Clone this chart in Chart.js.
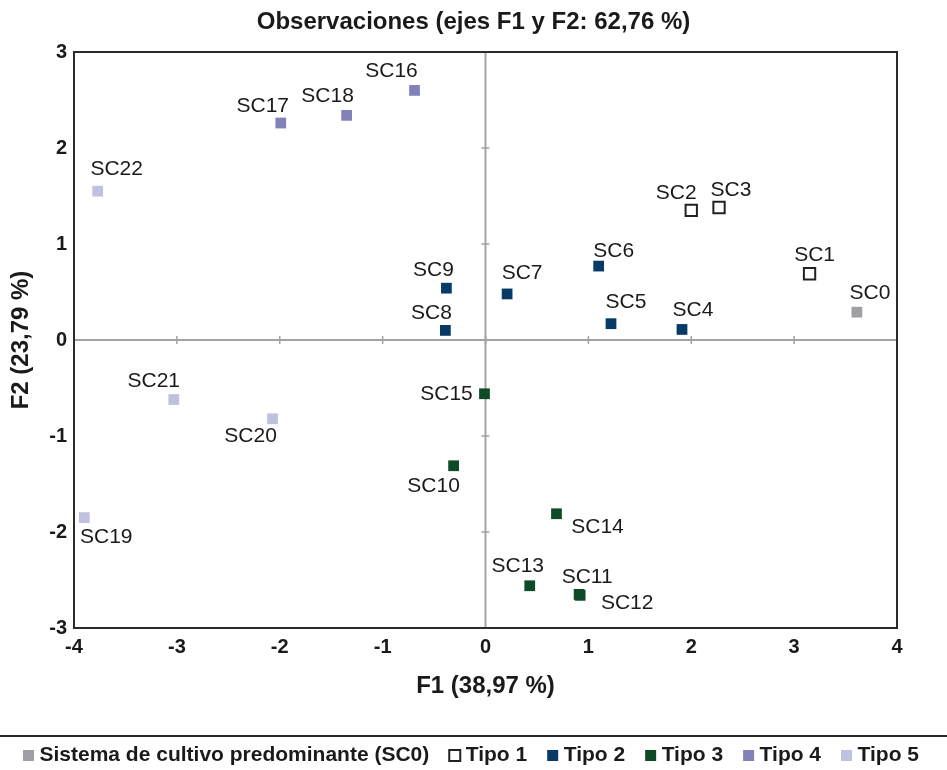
<!DOCTYPE html>
<html lang="es">
<head>
<meta charset="UTF-8">
<title>Observaciones (ejes F1 y F2)</title>
<script src="https://cdn.jsdelivr.net/npm/chart.js"></script>
<style>
  body { margin: 0; background: #fff; }
</style>
</head>
<body>
<canvas id="obsChart" width="947" height="770"></canvas>
<script>
// coordenadas de las observaciones (F1, F2) por grupo
const sc0Names = ['SC0'];
const sc0F1 = [3.61];
const sc0F2 = [0.29];

const tipo1Names = ['SC1', 'SC2', 'SC3'];
const tipo1F1 = [3.15, 2.00, 2.27];
const tipo1F2 = [0.69, 1.35, 1.38];

const tipo2Names = ['SC4', 'SC5', 'SC6', 'SC7', 'SC8', 'SC9'];
const tipo2F1 = [1.91, 1.22, 1.10, 0.21, -0.39, -0.38];
const tipo2F2 = [0.11, 0.17, 0.77, 0.48, 0.10, 0.54];

const tipo3Names = ['SC10', 'SC11', 'SC12', 'SC13', 'SC14', 'SC15'];
const tipo3F1 = [-0.31, 0.91, 0.92, 0.43, 0.69, -0.01];
const tipo3F2 = [-1.31, -2.65, -2.66, -2.56, -1.81, -0.56];

const tipo4Names = ['SC16', 'SC17', 'SC18'];
const tipo4F1 = [-0.69, -1.99, -1.35];
const tipo4F2 = [2.60, 2.26, 2.34];

const tipo5Names = ['SC19', 'SC20', 'SC21', 'SC22'];
const tipo5F1 = [-3.90, -2.07, -3.03, -3.77];
const tipo5F2 = [-1.85, -0.82, -0.62, 1.55];

const xTicks = [-4, -3, -2, -1, 0, 1, 2, 3, 4];
const yTicks = [-3, -2, -1, 0, 1, 2, 3];

// donde va cada etiqueta respecto a su punto (px)
const labelOffset = {
  SC0: [13, -19], SC1: [5, -19], SC2: [-15, -17], SC3: [12, -17],
  SC4: [11, -19], SC5: [15, -21], SC6: [15, -15], SC7: [15, -21],
  SC8: [-14, -17], SC9: [-13, -18], SC10: [-20, 20], SC11: [8, -17],
  SC12: [47, 8], SC13: [-12, -20], SC14: [41, 13], SC15: [-38, 0],
  SC16: [-23, -19], SC17: [-18, -17], SC18: [-19, -19], SC19: [22, 20],
  SC20: [-22, 17], SC21: [-20, -18], SC22: [19, -22]
};

function toPoints(names, f1, f2) {
  return names.map((n, i) => ({ x: f1[i], y: f2[i], name: n }));
}

function serie(label, names, f1, f2, color, hollow) {
  return {
    label: label,
    data: toPoints(names, f1, f2),
    pointStyle: 'rect',
    backgroundColor: hollow ? '#ffffff' : color,
    borderColor: hollow ? '#222222' : color,
    borderWidth: hollow ? 2 : 0,
    pointRadius: hollow ? 8 : 7.6,
    pointHoverRadius: hollow ? 8 : 7.6
  };
}

Chart.defaults.font.family = 'Arial, "Liberation Sans", sans-serif';
Chart.defaults.color = '#1a1a1a';

// ejes en el origen + marco
const crossAxes = {
  id: 'crossAxes',
  beforeDatasetsDraw(chart) {
    const { ctx, chartArea: a, scales: { x, y } } = chart;
    const x0 = x.getPixelForValue(0);
    const y0 = y.getPixelForValue(0);
    ctx.save();
    ctx.strokeStyle = '#a3a3a3';
    ctx.lineWidth = 2;
    ctx.beginPath();
    ctx.moveTo(a.left, y0); ctx.lineTo(a.right, y0);
    ctx.moveTo(x0, a.top); ctx.lineTo(x0, a.bottom);
    ctx.stroke();
    ctx.lineWidth = 1.5;
    ctx.beginPath();
    xTicks.forEach(v => {
      const px = x.getPixelForValue(v);
      ctx.moveTo(px, y0 - 4); ctx.lineTo(px, y0 + 4);
    });
    yTicks.forEach(v => {
      const py = y.getPixelForValue(v);
      ctx.moveTo(x0 - 4, py); ctx.lineTo(x0 + 4, py);
    });
    ctx.stroke();
    ctx.strokeStyle = '#2b2b2b';
    ctx.lineWidth = 2;
    ctx.strokeRect(a.left, a.top, a.right - a.left, a.bottom - a.top);
    ctx.restore();
  }
};

// nombres de las observaciones
const pointNames = {
  id: 'pointNames',
  afterDatasetsDraw(chart) {
    const ctx = chart.ctx;
    ctx.save();
    ctx.font = '21px Arial, "Liberation Sans", sans-serif';
    ctx.fillStyle = '#1a1a1a';
    ctx.textAlign = 'center';
    ctx.textBaseline = 'middle';
    chart.data.datasets.forEach((ds, i) => {
      chart.getDatasetMeta(i).data.forEach((el, j) => {
        const name = ds.data[j].name;
        const off = labelOffset[name] || [0, -18];
        ctx.fillText(name, el.x + off[0], el.y + off[1]);
      });
    });
    ctx.restore();
  }
};

// linea sobre la leyenda
const legendRule = {
  id: 'legendRule',
  afterDraw(chart) {
    const ctx = chart.ctx;
    ctx.save();
    ctx.strokeStyle = '#2b2b2b';
    ctx.lineWidth = 2;
    ctx.beginPath();
    ctx.moveTo(0, 736); ctx.lineTo(chart.width, 736);
    ctx.stroke();
    ctx.restore();
  }
};

new Chart(document.getElementById('obsChart'), {
  type: 'scatter',
  data: {
    datasets: [
      serie('Sistema de cultivo predominante (SC0)', sc0Names, sc0F1, sc0F2, '#a0a0a4', false),
      serie('Tipo 1', tipo1Names, tipo1F1, tipo1F2, '#222222', true),
      serie('Tipo 2', tipo2Names, tipo2F1, tipo2F2, '#083a68', false),
      serie('Tipo 3', tipo3Names, tipo3F1, tipo3F2, '#0f4a27', false),
      serie('Tipo 4', tipo4Names, tipo4F1, tipo4F2, '#8282b8', false),
      serie('Tipo 5', tipo5Names, tipo5F1, tipo5F2, '#c0c0e0', false)
    ]
  },
  options: {
    responsive: false,
    animation: false,
    events: [],
    layout: { padding: 0 },
    scales: {
      x: {
        type: 'linear',
        min: -4,
        max: 4,
        afterBuildTicks(s) { s.ticks = xTicks.map(v => ({ value: v })); },
        afterFit(s) { s.height = 92; },
        grid: { display: false, drawTicks: false },
        border: { display: false },
        ticks: { padding: 7, font: { size: 20, weight: 'bold' }, color: '#1a1a1a' },
        title: {
          display: true,
          text: 'F1 (38,97 %)',
          font: { size: 24, weight: 'bold' },
          color: '#1a1a1a',
          padding: { top: 0, bottom: 19 }
        }
      },
      y: {
        type: 'linear',
        min: -3,
        max: 3,
        afterBuildTicks(s) { s.ticks = yTicks.map(v => ({ value: v })); },
        afterFit(s) { s.width = 74; },
        grid: { display: false, drawTicks: false },
        border: { display: false },
        ticks: { padding: 7, font: { size: 20, weight: 'bold' }, color: '#1a1a1a' },
        title: {
          display: true,
          text: 'F2 (23,79 %)',
          font: { size: 24, weight: 'bold' },
          color: '#1a1a1a',
          padding: { top: 7, bottom: 0 }
        }
      },
      yr: {
        type: 'linear',
        position: 'right',
        afterFit(s) { s.width = 50; },
        grid: { display: false, drawTicks: false },
        border: { display: false },
        ticks: { display: false }
      }
    },
    plugins: {
      title: {
        display: true,
        text: 'Observaciones (ejes F1 y F2: 62,76 %)',
        font: { size: 24, weight: 'bold' },
        color: '#1a1a1a',
        padding: { top: 8, bottom: 15.2 }
      },
      legend: {
        position: 'bottom',
        maxHeight: 50,
        labels: {
          usePointStyle: true,
          boxWidth: 1,
          boxHeight: 11,
          padding: 25,
          color: '#1a1a1a',
          font: { size: 21, weight: 'bold' }
        }
      },
      tooltip: { enabled: false }
    }
  },
  plugins: [crossAxes, pointNames, legendRule]
});
</script>
</body>
</html>
